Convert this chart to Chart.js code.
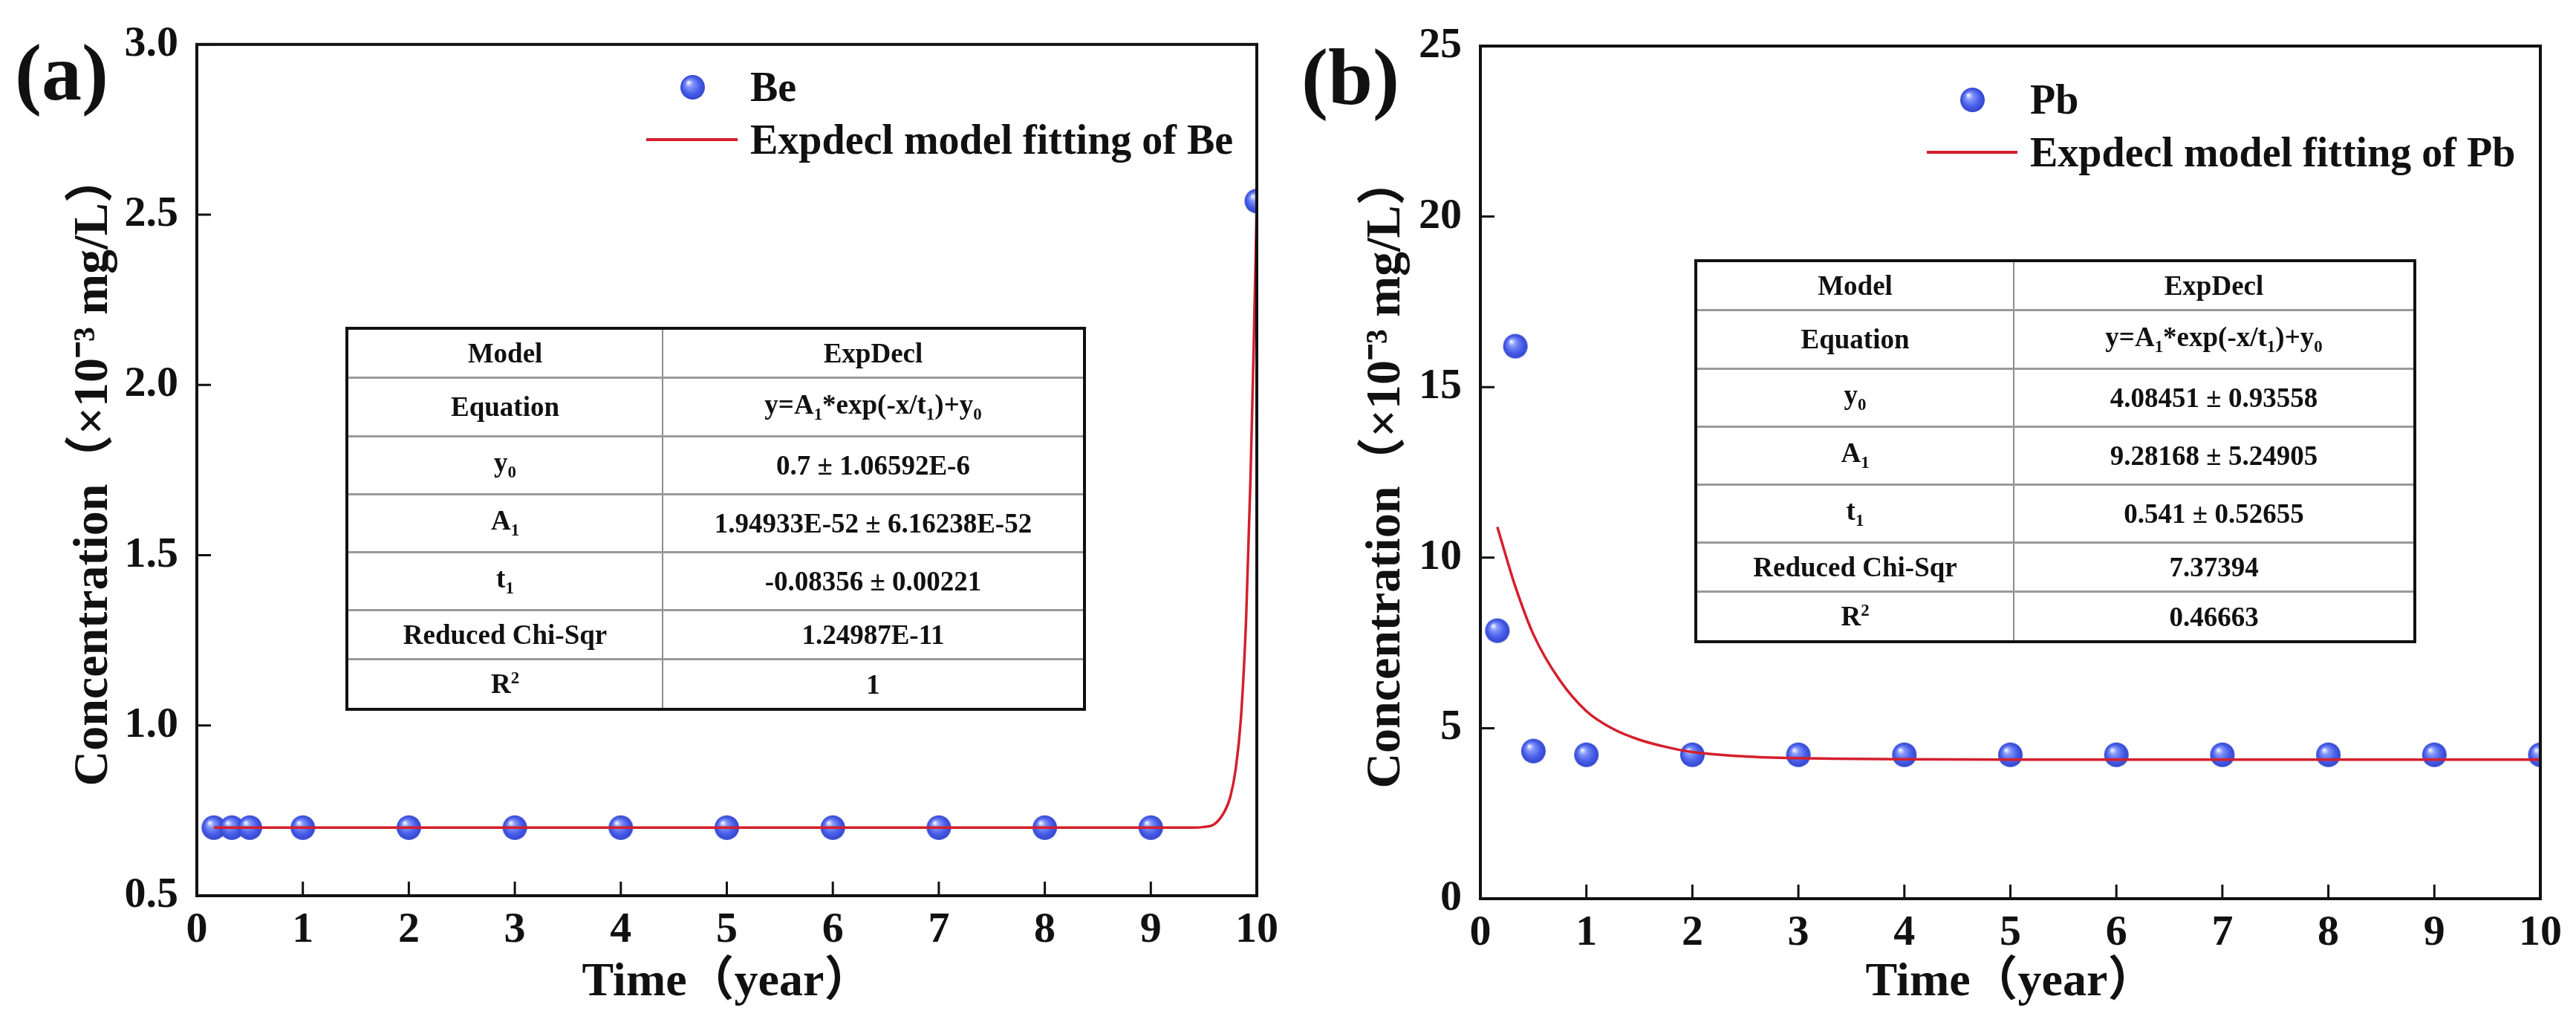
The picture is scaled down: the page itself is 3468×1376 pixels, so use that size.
<!DOCTYPE html>
<html>
<head>
<meta charset="utf-8">
<script src="https://cdn.jsdelivr.net/npm/chart.js@4.4.1/dist/chart.umd.min.js"></script>
<style>
  body { margin: 0; background: #fff; }
  #page { position: relative; width: 3468px; height: 1376px; overflow: hidden; background: #fff;
          font-family: "Liberation Serif", "Times New Roman", "Noto Sans CJK SC", serif; font-weight: bold; color: #111; }
  canvas { position: absolute; top: 0; }
  .tag { position: absolute; font-size: 108px; line-height: 108px; }
  .lg { position: absolute; font-size: 56px; line-height: 60px; white-space: nowrap; }
  .lgline { position: absolute; height: 4px; background: #d41f2d; }
  .lgdot { position: absolute; }
  table.fit { position: absolute; border-collapse: collapse; table-layout: fixed; border: 4px solid #111;
              font-size: 37px; text-align: center; }
  table.fit td { padding: 0; border-top: 3px solid #9a9a9a; border-left: 2px solid #8c8c8c; line-height: 1; }
  table.fit tr:first-child td { border-top: none; border-bottom: 4px solid #222; }
  table.fit td:first-child { border-left: none; }
  table.fit sub, table.fit sup { font-size: 0.62em; }
</style>
</head>
<body>
<div id="page">
  <canvas id="chartA" width="1734" height="1376" style="left:0"></canvas>
  <canvas id="chartB" width="1734" height="1376" style="left:1734px"></canvas>
  <div class="tag" style="left:20px; top:44px">(a)</div>
  <div class="tag" style="left:1752px; top:50px">(b)</div>
</div>
<script>
// measured sample times (year)
const timeBe = [0.16, 0.33, 0.5, 1, 2, 3, 4, 5, 6, 7, 8, 9, 10];
const concBe = [0.7, 0.7, 0.7, 0.7, 0.7, 0.7, 0.7, 0.7, 0.7, 0.7, 0.7, 0.7, 2.54];
const timePb = [0.16, 0.33, 0.5, 1, 2, 3, 4, 5, 6, 7, 8, 9, 10];
const concPb = [7.86, 16.2, 4.33, 4.22, 4.22, 4.22, 4.22, 4.22, 4.22, 4.22, 4.22, 4.22, 4.22];

// fitted curves
const fitTimeBe = [0.16, 1, 2, 3, 4, 5, 6, 7, 8, 9, 9.4, 9.5, 9.6, 9.7, 9.75, 9.8, 9.85, 9.9, 9.94, 9.97, 10];
const fitConcBe = [0.7, 0.7, 0.7, 0.7, 0.7, 0.7, 0.7, 0.7, 0.7, 0.7, 0.7, 0.702, 0.71, 0.75, 0.79, 0.87, 1.02, 1.32, 1.72, 2.1, 2.54];
const fitTimePb = [0.16, 0.25, 0.33, 0.5, 0.75, 1, 1.25, 1.5, 1.75, 2, 2.5, 3, 4, 5, 6, 7, 8, 9, 10];
const fitConcPb = [10.9, 9.95, 9.15, 7.75, 6.4, 5.5, 4.98, 4.66, 4.45, 4.3, 4.17, 4.12, 4.09, 4.08, 4.08, 4.08, 4.08, 4.08, 4.08];

const xTicks = [0, 1, 2, 3, 4, 5, 6, 7, 8, 9, 10];
const xTickLabels = ['0', '1', '2', '3', '4', '5', '6', '7', '8', '9', '10'];
const yTicksBe = [0.5, 1.0, 1.5, 2.0, 2.5, 3.0];
const yTickLabelsBe = ['0.5', '1.0', '1.5', '2.0', '2.5', '3.0'];
const yTicksPb = [0, 5, 10, 15, 20, 25];
const yTickLabelsPb = ['0', '5', '10', '15', '20', '25'];

const tableBe = [
  ['Model', 'ExpDecl'],
  ['Equation', 'y=A<sub>1</sub>*exp(-x/t<sub>1</sub>)+y<sub>0</sub>'],
  ['y<sub>0</sub>', '0.7 ± 1.06592E-6'],
  ['A<sub>1</sub>', '1.94933E-52 ± 6.16238E-52'],
  ['t<sub>1</sub>', '-0.08356 ± 0.00221'],
  ['Reduced Chi-Sqr', '1.24987E-11'],
  ['R<sup>2</sup>', '1'],
];
const tablePb = [
  ['Model', 'ExpDecl'],
  ['Equation', 'y=A<sub>1</sub>*exp(-x/t<sub>1</sub>)+y<sub>0</sub>'],
  ['y<sub>0</sub>', '4.08451 ± 0.93558'],
  ['A<sub>1</sub>', '9.28168 ± 5.24905'],
  ['t<sub>1</sub>', '0.541 ± 0.52655'],
  ['Reduced Chi-Sqr', '7.37394'],
  ['R<sup>2</sup>', '0.46663'],
];

const FONT = '"Liberation Serif", "Times New Roman", "Noto Sans CJK SC", serif';
Chart.defaults.font.family = FONT;
Chart.defaults.font.weight = 'bold';
Chart.defaults.color = '#111';

const FIT_RED = '#d41f2d';

// glossy blue ball used as the point marker
function makeSphere(r) {
  const c = document.createElement('canvas');
  const s = Math.ceil(r * 2 + 2);
  c.width = c.height = s;
  const g = c.getContext('2d');
  const m = s / 2;
  const grad = g.createRadialGradient(m - r * 0.35, m - r * 0.4, r * 0.05, m, m, r);
  grad.addColorStop(0, '#eef1ff');
  grad.addColorStop(0.25, '#8597fa');
  grad.addColorStop(0.65, '#4a60ea');
  grad.addColorStop(1, '#3245cc');
  g.fillStyle = grad;
  g.beginPath();
  g.arc(m, m, r, 0, Math.PI * 2);
  g.fill();
  return c;
}
const sphere = makeSphere(16.5);

const framePlugin = {
  id: 'frame',
  afterDatasetsDraw(chart) {
    const { ctx, chartArea: a, scales: { x, y } } = chart;
    ctx.save();
    ctx.strokeStyle = '#111';
    ctx.lineWidth = 3;
    ctx.beginPath();
    x.ticks.forEach(t => {
      const px = x.getPixelForValue(t.value);
      ctx.moveTo(px, a.bottom);
      ctx.lineTo(px, a.bottom - 19);
    });
    y.ticks.forEach(t => {
      const py = y.getPixelForValue(t.value);
      ctx.moveTo(a.left, py);
      ctx.lineTo(a.left + 19, py);
    });
    ctx.stroke();
    ctx.lineWidth = 4;
    ctx.strokeRect(a.left, a.top, a.right - a.left, a.bottom - a.top);
    ctx.restore();
  }
};

function zip(xs, ys) {
  return xs.map((x, i) => ({ x, y: ys[i] }));
}

function createPanel(canvasId, cfg) {
  const ctx = document.getElementById(canvasId);
  return new Chart(ctx, {
    type: 'scatter',
    data: {
      datasets: [
        {
          type: 'scatter',
          label: cfg.name,
          data: zip(cfg.time, cfg.conc),
          pointStyle: sphere,
          pointRadius: 16,
          clip: 0,
          order: 2,
        },
        {
          type: 'line',
          label: `Expdecl model fitting of ${cfg.name}`,
          data: zip(cfg.fitTime, cfg.fitConc),
          borderColor: FIT_RED,
          borderWidth: 3.5,
          pointRadius: 0,
          cubicInterpolationMode: 'monotone',
          fill: false,
          clip: 0,
          order: 1,
        },
      ],
    },
    options: {
      responsive: false,
      devicePixelRatio: 1,
      animation: false,
      layout: { padding: cfg.padding },
      plugins: { legend: { display: false }, tooltip: { enabled: false } },
      scales: {
        x: {
          type: 'linear',
          position: 'bottom',
          min: 0,
          max: 10,
          grid: { display: false, drawTicks: false },
          border: { display: false },
          afterBuildTicks: s => { s.ticks = xTicks.map(v => ({ value: v })); },
          afterFit: s => { s.height = cfg.xHeight; },
          ticks: {
            autoSkip: false,
            maxRotation: 0,
            padding: 12,
            font: { size: 58, weight: 'bold' },
            callback: (v, i) => xTickLabels[i],
          },
          title: {
            display: true,
            text: 'Time（year）',
            font: { size: 64, weight: 'bold' },
            padding: { top: 0, bottom: 14 },
          },
        },
        y: {
          type: 'linear',
          min: cfg.yTicks[0],
          max: cfg.yTicks[cfg.yTicks.length - 1],
          grid: { display: false, drawTicks: false },
          border: { display: false },
          afterBuildTicks: s => { s.ticks = cfg.yTicks.map(v => ({ value: v })); },
          afterFit: s => { s.width = cfg.yWidth; },
          ticks: {
            autoSkip: false,
            padding: 25,
            font: { size: 58, weight: 'bold' },
            callback: (v, i) => cfg.yLabels[i],
          },
          title: {
            display: true,
            text: 'Concentration（×10⁻³ mg/L）',
            font: { size: 66, weight: 'bold' },
            padding: { top: cfg.yTitlePad, bottom: 0 },
          },
        },
      },
    },
    plugins: [framePlugin],
  });
}

function addLegend(chart, pos) {
  const page = document.getElementById('page');
  const [pts, fit] = chart.data.datasets;
  const dot = document.createElement('img');
  dot.className = 'lgdot';
  dot.src = sphere.toDataURL();
  dot.style.left = (pos.dotX - sphere.width / 2) + 'px';
  dot.style.top = (pos.dotY - sphere.height / 2) + 'px';
  page.appendChild(dot);

  const t1 = document.createElement('div');
  t1.className = 'lg';
  t1.textContent = pts.label;
  t1.style.left = pos.textX + 'px';
  t1.style.top = (pos.dotY - 30) + 'px';
  page.appendChild(t1);

  const ln = document.createElement('div');
  ln.className = 'lgline';
  ln.style.left = pos.lineX0 + 'px';
  ln.style.width = (pos.lineX1 - pos.lineX0) + 'px';
  ln.style.top = (pos.lineY - 2) + 'px';
  ln.style.background = fit.borderColor;
  page.appendChild(ln);

  const t2 = document.createElement('div');
  t2.className = 'lg';
  t2.textContent = fit.label;
  t2.style.left = pos.textX + 'px';
  t2.style.top = (pos.lineY - 30) + 'px';
  page.appendChild(t2);
}

function addTable(rows, box) {
  const tbl = document.createElement('table');
  tbl.className = 'fit';
  tbl.style.left = box.left + 'px';
  tbl.style.top = box.top + 'px';
  tbl.style.width = box.width + 'px';
  tbl.style.height = box.height + 'px';
  const cg = document.createElement('colgroup');
  cg.innerHTML = `<col style="width:${box.split}px"><col>`;
  tbl.appendChild(cg);
  rows.forEach(r => {
    const tr = document.createElement('tr');
    tr.innerHTML = `<td>${r[0]}</td><td>${r[1]}</td>`;
    tbl.appendChild(tr);
  });
  document.getElementById('page').appendChild(tbl);
}

const chartA = createPanel('chartA', {
  name: 'Be', time: timeBe, conc: concBe, fitTime: fitTimeBe, fitConc: fitConcBe,
  yTicks: yTicksBe, yLabels: yTickLabelsBe,
  padding: { left: 0, right: 42, top: 58, bottom: 0 },
  yWidth: 265, xHeight: 170, yTitlePad: 87,
});
const chartB = createPanel('chartB', {
  name: 'Pb', time: timePb, conc: concPb, fitTime: fitTimePb, fitConc: fitConcPb,
  yTicks: yTicksPb, yLabels: yTickLabelsPb,
  padding: { left: 0, right: 48, top: 62, bottom: 0 },
  yWidth: 259, xHeight: 166, yTitlePad: 93,
});

addLegend(chartA, { dotX: 932, dotY: 117, textX: 1010, lineX0: 870, lineX1: 993, lineY: 188 });
addLegend(chartB, { dotX: 2655, dotY: 134, textX: 2733, lineX0: 2594, lineX1: 2716, lineY: 205 });

addTable(tableBe, { left: 465, top: 440, width: 997, height: 517, split: 425 });
addTable(tablePb, { left: 2281, top: 349, width: 972, height: 517, split: 428 });
</script>
</body>
</html>
